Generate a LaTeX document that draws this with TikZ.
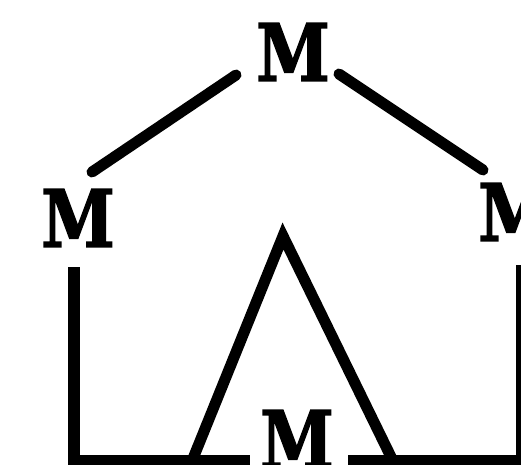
\documentclass[tikz,border=0pt]{standalone}
\usepackage{fontspec}
\newfontfamily\mfont[BoldFeatures={FakeBold=2}]{DejaVu Serif}
\newcommand{\mglyph}{\scalebox{0.84}[1]{M}}
\tikzset{
  lbl/.style={inner sep=0pt, outer sep=0pt, font=\mfont\bfseries\fontsize{79}{79}\selectfont},
  edge/.style={line width=11pt, line cap=round},
  frame/.style={line width=12pt, line cap=butt}
}
\begin{document}
\begin{tikzpicture}[x=1pt,y=-1pt]
\useasboundingbox (0,0) rectangle (521,464);
\clip (0,0) rectangle (521,464);
\node[lbl] (tm) at (293,52) {\mglyph};
\node[lbl] (lm) at (78,218) {\mglyph};
\node[lbl] (rm) at (515,212) {\mglyph};
\node[lbl] (bm) at (297,439) {\mglyph};
% top connectors
\coordinate (tl1) at (236,75);
\coordinate (tl2) at (92,172);
\coordinate (tr1) at (339,74);
\coordinate (tr2) at (483,170);
\draw[edge] (tl1) -- (tl2);
\draw[edge] (tr1) -- (tr2);
% frame
\coordinate (lv) at (74,267);
\coordinate (lc) at (74,461);
\coordinate (le) at (250,461);
\coordinate (re) at (348,461);
\coordinate (rc) at (522,461);
\coordinate (rv) at (522,265);
\draw[frame] (lv) -- (lc) -- (le);
\draw[frame] (re) -- (rc) -- (rv);
% triangle
\coordinate (ta) at (283,236);
\coordinate (tb1) at (192,461);
\coordinate (tb2) at (393,461);
\draw[line width=11pt, line join=miter] (tb1) -- (ta) -- (tb2);
\end{tikzpicture}
\end{document}
